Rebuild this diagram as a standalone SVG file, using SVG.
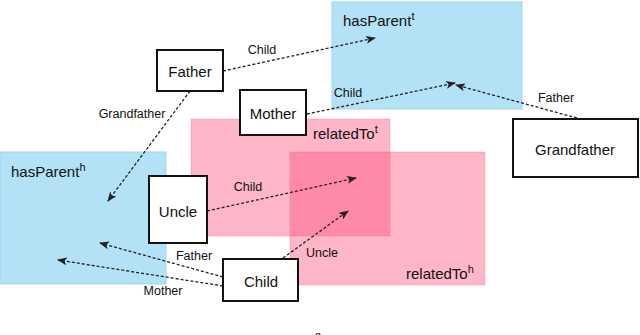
<svg xmlns="http://www.w3.org/2000/svg" width="640" height="335" viewBox="0 0 640 335">
<style>
text{font-family:"Liberation Sans","DejaVu Sans",sans-serif;fill:#111}
.node rect{fill:#fff;stroke:#111;stroke-width:2}
.nl{font-size:15px;text-anchor:middle;dominant-baseline:central}
.el{font-size:12.5px;text-anchor:middle}
.rl{font-size:15px}
.sup{font-size:11px}
.blue{fill:#b3e1f5;stroke:#9fd6ef;stroke-width:1}
.pink{fill:#ff4975;fill-opacity:0.4;stroke:#ff4975;stroke-opacity:0.25;stroke-width:1}
.edge{fill:none;stroke:#222;stroke-width:1.3;stroke-dasharray:3 2;marker-end:url(#arr)}
</style>
<defs>
<marker id="arr" markerWidth="10" markerHeight="8" refX="9" refY="4" orient="auto" markerUnits="userSpaceOnUse">
<path d="M0,0 L10,4 L0,8 L2.5,4 Z" fill="#222"/>
</marker>
</defs>
<g id="regions">
<g id="hasParent_t"><rect class="blue" x="332" y="2" width="190" height="107"/><text class="rl" x="343" y="26">hasParent<tspan class="sup" dy="-6">t</tspan></text></g>
<g id="hasParent_h"><rect class="blue" x="0" y="152" width="166" height="132"/><text class="rl" x="11" y="177">hasParent<tspan class="sup" dy="-6">h</tspan></text></g>
<g id="relatedTo_t"><rect class="pink" x="191" y="119" width="199" height="117"/><text class="rl" x="313" y="139">relatedTo<tspan class="sup" dy="-6">t</tspan></text></g>
<g id="relatedTo_h"><rect class="pink" x="290" y="152" width="195" height="133"/><text class="rl" x="406" y="279">relatedTo<tspan class="sup" dy="-6">h</tspan></text></g>
</g>
<g id="connectors">
<path class="edge" d="M223,71 L375,38"/>
<text class="el" x="262" y="54">Child</text>
<path class="edge" d="M307,114 L455,83"/>
<text class="el" x="348" y="97">Child</text>
<path class="edge" d="M577,118 L456,85"/>
<text class="el" x="556" y="102">Father</text>
<path class="edge" d="M190,91 L108,201"/>
<text class="el" x="132" y="118">Grandfather</text>
<path class="edge" d="M207,211 L356,178"/>
<text class="el" x="248" y="191">Child</text>
<path class="edge" d="M283,258 L348,211"/>
<text class="el" x="322" y="257">Uncle</text>
<path class="edge" d="M223,277 L100,243"/>
<text class="el" x="194" y="260">Father</text>
<path class="edge" d="M223,286 L58,260"/>
<text class="el" x="163" y="295">Mother</text>
</g>
<g id="Father" class="node"><rect x="157" y="50" width="66" height="41"/><text class="nl" x="190" y="71">Father</text></g>
<g id="Mother" class="node"><rect x="240" y="90" width="66" height="45"/><text class="nl" x="273" y="113">Mother</text></g>
<g id="Uncle" class="node"><rect x="149" y="176" width="58" height="67"/><text class="nl" x="178" y="211">Uncle</text></g>
<g id="Child" class="node"><rect x="223" y="259" width="75" height="42"/><text class="nl" x="261" y="281">Child</text></g>
<g id="Grandfather" class="node"><rect x="513" y="119" width="125" height="58"/><text class="nl" x="575" y="149">Grandfather</text></g>
<text x="318" y="340" font-size="12" text-anchor="middle">a</text>
</svg>
